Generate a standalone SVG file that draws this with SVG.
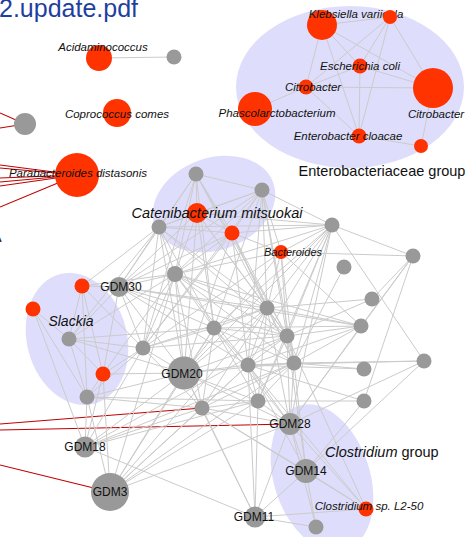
<svg xmlns="http://www.w3.org/2000/svg" width="471" height="537" viewBox="0 0 471 537">
<style>
.bg{fill:#ffffff}
.grp{fill:#dedefc}
.e{stroke:#cbcbcb;stroke-width:1;fill:none}
.r{stroke:#c00000;stroke-width:1.1;fill:none}
.nr{fill:#ff3300}
.ng{fill:#999999}
.lab{font-family:"Liberation Sans",Arial,sans-serif;font-style:italic;font-size:11.5px;fill:#111111;text-anchor:middle}
.gdm{font-family:"Liberation Sans",Arial,sans-serif;font-size:12px;fill:#111111;text-anchor:middle}
.big{font-family:"Liberation Sans",Arial,sans-serif;font-size:14.5px;fill:#111111}
.it{font-style:italic}
.title{font-family:"Liberation Sans",Arial,sans-serif;font-size:25px;fill:#1f3f9f}
</style>
<rect class="bg" x="0" y="0" width="471" height="537"/>
<text class="title" x="-1" y="17">2.update.pdf</text>
<text class="big" x="-8" y="242">A</text>

<g id="groups">
<ellipse class="grp" cx="350" cy="87" rx="114" ry="81"/>
<ellipse class="grp" cx="214" cy="204" rx="63" ry="46" transform="rotate(-20 214 204)"/>
<ellipse class="grp" cx="77" cy="339" rx="50" ry="67" transform="rotate(-15 77 339)"/>
<ellipse class="grp" cx="322" cy="478" rx="48" ry="76" transform="rotate(-18 322 478)"/>
</g>

<g id="connectors">
<line class="r" x1="0" y1="113" x2="25" y2="124"/>
<line class="r" x1="0" y1="128" x2="25" y2="124"/>
<line class="r" x1="0" y1="165" x2="77" y2="175"/>
<line class="r" x1="0" y1="168" x2="77" y2="175"/>
<line class="r" x1="0" y1="178" x2="77" y2="175"/>
<line class="r" x1="0" y1="182" x2="77" y2="175"/>
<line class="r" x1="0" y1="186" x2="77" y2="175"/>
<line class="r" x1="0" y1="207" x2="77" y2="175"/>
<line class="r" x1="0" y1="424" x2="202" y2="408"/>
<line class="r" x1="0" y1="430" x2="290" y2="424"/>
<line class="r" x1="0" y1="465" x2="110" y2="492"/>

<line class="e" x1="99" y1="58" x2="174" y2="57"/>

<line class="e" x1="322" y1="25" x2="360" y2="66"/>
<line class="e" x1="322" y1="25" x2="306" y2="87"/>
<line class="e" x1="322" y1="25" x2="433" y2="88"/>
<line class="e" x1="322" y1="25" x2="359" y2="136"/>
<line class="e" x1="322" y1="25" x2="390" y2="17"/>
<line class="e" x1="390" y1="17" x2="360" y2="66"/>
<line class="e" x1="390" y1="17" x2="306" y2="87"/>
<line class="e" x1="390" y1="17" x2="359" y2="136"/>
<line class="e" x1="390" y1="17" x2="433" y2="88"/>
<line class="e" x1="306" y1="87" x2="255" y2="109"/>
<line class="e" x1="306" y1="87" x2="433" y2="88"/>
<line class="e" x1="306" y1="87" x2="359" y2="136"/>
<line class="e" x1="306" y1="87" x2="360" y2="66"/>
<line class="e" x1="360" y1="66" x2="433" y2="88"/>
<line class="e" x1="360" y1="66" x2="359" y2="136"/>
<line class="e" x1="359" y1="136" x2="421" y2="146"/>
<line class="e" x1="433" y1="88" x2="421" y2="146"/>

<line class="e" x1="196" y1="174" x2="197" y2="213"/>
<line class="e" x1="196" y1="174" x2="159" y2="227"/>
<line class="e" x1="196" y1="174" x2="232" y2="233"/>
<line class="e" x1="196" y1="174" x2="262" y2="190"/>
<line class="e" x1="196" y1="174" x2="175" y2="274"/>
<line class="e" x1="196" y1="174" x2="214" y2="328"/>
<line class="e" x1="196" y1="174" x2="119" y2="287"/>
<line class="e" x1="196" y1="174" x2="267" y2="308"/>
<line class="e" x1="196" y1="174" x2="287" y2="336"/>
<line class="e" x1="196" y1="174" x2="143" y2="348"/>
<line class="e" x1="262" y1="190" x2="197" y2="213"/>
<line class="e" x1="262" y1="190" x2="159" y2="227"/>
<line class="e" x1="262" y1="190" x2="232" y2="233"/>
<line class="e" x1="262" y1="190" x2="332" y2="225"/>
<line class="e" x1="262" y1="190" x2="281" y2="252"/>
<line class="e" x1="262" y1="190" x2="267" y2="308"/>
<line class="e" x1="262" y1="190" x2="287" y2="336"/>
<line class="e" x1="262" y1="190" x2="214" y2="328"/>
<line class="e" x1="262" y1="190" x2="175" y2="274"/>
<line class="e" x1="262" y1="190" x2="119" y2="287"/>
<line class="e" x1="262" y1="190" x2="248" y2="365"/>
<line class="e" x1="262" y1="190" x2="294" y2="363"/>
<line class="e" x1="262" y1="190" x2="143" y2="348"/>
<line class="e" x1="197" y1="213" x2="159" y2="227"/>
<line class="e" x1="197" y1="213" x2="232" y2="233"/>
<line class="e" x1="197" y1="213" x2="332" y2="225"/>
<line class="e" x1="197" y1="213" x2="175" y2="274"/>
<line class="e" x1="197" y1="213" x2="214" y2="328"/>
<line class="e" x1="197" y1="213" x2="184" y2="373"/>
<line class="e" x1="197" y1="213" x2="267" y2="308"/>
<line class="e" x1="197" y1="213" x2="287" y2="336"/>
<line class="e" x1="197" y1="213" x2="119" y2="287"/>
<line class="e" x1="159" y1="227" x2="232" y2="233"/>
<line class="e" x1="159" y1="227" x2="119" y2="287"/>
<line class="e" x1="159" y1="227" x2="175" y2="274"/>
<line class="e" x1="159" y1="227" x2="143" y2="348"/>
<line class="e" x1="159" y1="227" x2="214" y2="328"/>
<line class="e" x1="159" y1="227" x2="267" y2="308"/>
<line class="e" x1="159" y1="227" x2="184" y2="373"/>
<line class="e" x1="159" y1="227" x2="82" y2="286"/>
<line class="e" x1="159" y1="227" x2="69" y2="339"/>
<line class="e" x1="159" y1="227" x2="287" y2="336"/>
<line class="e" x1="232" y1="233" x2="332" y2="225"/>
<line class="e" x1="232" y1="233" x2="281" y2="252"/>
<line class="e" x1="232" y1="233" x2="267" y2="308"/>
<line class="e" x1="232" y1="233" x2="287" y2="336"/>
<line class="e" x1="232" y1="233" x2="175" y2="274"/>
<line class="e" x1="232" y1="233" x2="143" y2="348"/>
<line class="e" x1="232" y1="233" x2="248" y2="365"/>
<line class="e" x1="232" y1="233" x2="184" y2="373"/>
<line class="e" x1="232" y1="233" x2="294" y2="363"/>
<line class="e" x1="232" y1="233" x2="119" y2="287"/>
<line class="e" x1="332" y1="225" x2="281" y2="252"/>
<line class="e" x1="332" y1="225" x2="413" y2="256"/>
<line class="e" x1="332" y1="225" x2="267" y2="308"/>
<line class="e" x1="332" y1="225" x2="287" y2="336"/>
<line class="e" x1="332" y1="225" x2="214" y2="328"/>
<line class="e" x1="332" y1="225" x2="294" y2="363"/>
<line class="e" x1="332" y1="225" x2="248" y2="365"/>
<line class="e" x1="332" y1="225" x2="424" y2="361"/>
<line class="e" x1="332" y1="225" x2="175" y2="274"/>
<line class="e" x1="332" y1="225" x2="290" y2="424"/>
<line class="e" x1="332" y1="225" x2="258" y2="401"/>
<line class="e" x1="332" y1="225" x2="159" y2="227"/>
<line class="e" x1="332" y1="225" x2="184" y2="373"/>
<line class="e" x1="281" y1="252" x2="413" y2="256"/>
<line class="e" x1="281" y1="252" x2="287" y2="336"/>
<line class="e" x1="281" y1="252" x2="267" y2="308"/>
<line class="e" x1="281" y1="252" x2="143" y2="348"/>
<line class="e" x1="281" y1="252" x2="294" y2="363"/>
<line class="e" x1="281" y1="252" x2="184" y2="373"/>
<line class="e" x1="281" y1="252" x2="361" y2="326"/>
<line class="e" x1="281" y1="252" x2="175" y2="274"/>
<line class="e" x1="413" y1="256" x2="372" y2="299"/>
<line class="e" x1="413" y1="256" x2="361" y2="326"/>
<line class="e" x1="413" y1="256" x2="364" y2="401"/>
<line class="e" x1="413" y1="256" x2="290" y2="424"/>
<line class="e" x1="344" y1="267" x2="294" y2="363"/>
<line class="e" x1="372" y1="299" x2="267" y2="308"/>
<line class="e" x1="372" y1="299" x2="287" y2="336"/>
<line class="e" x1="361" y1="326" x2="267" y2="308"/>
<line class="e" x1="361" y1="326" x2="287" y2="336"/>
<line class="e" x1="361" y1="326" x2="214" y2="328"/>
<line class="e" x1="361" y1="326" x2="248" y2="365"/>
<line class="e" x1="361" y1="326" x2="290" y2="424"/>
<line class="e" x1="361" y1="326" x2="294" y2="363"/>
<line class="e" x1="361" y1="326" x2="175" y2="274"/>
<line class="e" x1="361" y1="326" x2="119" y2="287"/>
<line class="e" x1="424" y1="361" x2="294" y2="363"/>
<line class="e" x1="424" y1="361" x2="290" y2="424"/>
<line class="e" x1="424" y1="361" x2="306" y2="471"/>
<line class="e" x1="424" y1="361" x2="248" y2="365"/>
<line class="e" x1="364" y1="369" x2="294" y2="363"/>
<line class="e" x1="364" y1="369" x2="248" y2="365"/>
<line class="e" x1="364" y1="401" x2="248" y2="365"/>
<line class="e" x1="364" y1="401" x2="258" y2="401"/>
<line class="e" x1="364" y1="401" x2="306" y2="471"/>
<line class="e" x1="119" y1="287" x2="82" y2="286"/>
<line class="e" x1="119" y1="287" x2="143" y2="348"/>
<line class="e" x1="119" y1="287" x2="175" y2="274"/>
<line class="e" x1="119" y1="287" x2="214" y2="328"/>
<line class="e" x1="119" y1="287" x2="267" y2="308"/>
<line class="e" x1="119" y1="287" x2="287" y2="336"/>
<line class="e" x1="119" y1="287" x2="184" y2="373"/>
<line class="e" x1="119" y1="287" x2="103" y2="374"/>
<line class="e" x1="119" y1="287" x2="248" y2="365"/>
<line class="e" x1="119" y1="287" x2="69" y2="339"/>
<line class="e" x1="82" y1="286" x2="69" y2="339"/>
<line class="e" x1="82" y1="286" x2="87" y2="397"/>
<line class="e" x1="82" y1="286" x2="103" y2="374"/>
<line class="e" x1="82" y1="286" x2="175" y2="274"/>
<line class="e" x1="82" y1="286" x2="143" y2="348"/>
<line class="e" x1="33" y1="309" x2="69" y2="339"/>
<line class="e" x1="33" y1="309" x2="87" y2="397"/>
<line class="e" x1="33" y1="309" x2="85" y2="447"/>
<line class="e" x1="69" y1="339" x2="143" y2="348"/>
<line class="e" x1="69" y1="339" x2="87" y2="397"/>
<line class="e" x1="69" y1="339" x2="175" y2="274"/>
<line class="e" x1="69" y1="339" x2="103" y2="374"/>
<line class="e" x1="69" y1="339" x2="214" y2="328"/>
<line class="e" x1="69" y1="339" x2="184" y2="373"/>
<line class="e" x1="175" y1="274" x2="214" y2="328"/>
<line class="e" x1="175" y1="274" x2="143" y2="348"/>
<line class="e" x1="175" y1="274" x2="184" y2="373"/>
<line class="e" x1="175" y1="274" x2="267" y2="308"/>
<line class="e" x1="175" y1="274" x2="287" y2="336"/>
<line class="e" x1="175" y1="274" x2="248" y2="365"/>
<line class="e" x1="175" y1="274" x2="294" y2="363"/>
<line class="e" x1="175" y1="274" x2="202" y2="408"/>
<line class="e" x1="175" y1="274" x2="103" y2="374"/>
<line class="e" x1="175" y1="274" x2="110" y2="492"/>
<line class="e" x1="143" y1="348" x2="214" y2="328"/>
<line class="e" x1="143" y1="348" x2="267" y2="308"/>
<line class="e" x1="143" y1="348" x2="184" y2="373"/>
<line class="e" x1="143" y1="348" x2="103" y2="374"/>
<line class="e" x1="143" y1="348" x2="87" y2="397"/>
<line class="e" x1="143" y1="348" x2="202" y2="408"/>
<line class="e" x1="143" y1="348" x2="85" y2="447"/>
<line class="e" x1="143" y1="348" x2="287" y2="336"/>
<line class="e" x1="214" y1="328" x2="267" y2="308"/>
<line class="e" x1="214" y1="328" x2="287" y2="336"/>
<line class="e" x1="214" y1="328" x2="184" y2="373"/>
<line class="e" x1="214" y1="328" x2="248" y2="365"/>
<line class="e" x1="214" y1="328" x2="294" y2="363"/>
<line class="e" x1="214" y1="328" x2="202" y2="408"/>
<line class="e" x1="214" y1="328" x2="258" y2="401"/>
<line class="e" x1="214" y1="328" x2="290" y2="424"/>
<line class="e" x1="214" y1="328" x2="110" y2="492"/>
<line class="e" x1="267" y1="308" x2="287" y2="336"/>
<line class="e" x1="267" y1="308" x2="248" y2="365"/>
<line class="e" x1="267" y1="308" x2="294" y2="363"/>
<line class="e" x1="267" y1="308" x2="184" y2="373"/>
<line class="e" x1="267" y1="308" x2="202" y2="408"/>
<line class="e" x1="267" y1="308" x2="258" y2="401"/>
<line class="e" x1="267" y1="308" x2="290" y2="424"/>
<line class="e" x1="267" y1="308" x2="110" y2="492"/>
<line class="e" x1="287" y1="336" x2="248" y2="365"/>
<line class="e" x1="287" y1="336" x2="294" y2="363"/>
<line class="e" x1="287" y1="336" x2="184" y2="373"/>
<line class="e" x1="287" y1="336" x2="258" y2="401"/>
<line class="e" x1="287" y1="336" x2="290" y2="424"/>
<line class="e" x1="287" y1="336" x2="306" y2="471"/>
<line class="e" x1="287" y1="336" x2="85" y2="447"/>
<line class="e" x1="287" y1="336" x2="366" y2="509"/>
<line class="e" x1="184" y1="373" x2="248" y2="365"/>
<line class="e" x1="184" y1="373" x2="202" y2="408"/>
<line class="e" x1="184" y1="373" x2="258" y2="401"/>
<line class="e" x1="184" y1="373" x2="103" y2="374"/>
<line class="e" x1="184" y1="373" x2="87" y2="397"/>
<line class="e" x1="184" y1="373" x2="110" y2="492"/>
<line class="e" x1="184" y1="373" x2="290" y2="424"/>
<line class="e" x1="184" y1="373" x2="85" y2="447"/>
<line class="e" x1="184" y1="373" x2="294" y2="363"/>
<line class="e" x1="184" y1="373" x2="255" y2="517"/>
<line class="e" x1="248" y1="365" x2="294" y2="363"/>
<line class="e" x1="248" y1="365" x2="258" y2="401"/>
<line class="e" x1="248" y1="365" x2="290" y2="424"/>
<line class="e" x1="248" y1="365" x2="202" y2="408"/>
<line class="e" x1="248" y1="365" x2="110" y2="492"/>
<line class="e" x1="248" y1="365" x2="255" y2="517"/>
<line class="e" x1="248" y1="365" x2="306" y2="471"/>
<line class="e" x1="248" y1="365" x2="366" y2="509"/>
<line class="e" x1="294" y1="363" x2="258" y2="401"/>
<line class="e" x1="294" y1="363" x2="290" y2="424"/>
<line class="e" x1="294" y1="363" x2="306" y2="471"/>
<line class="e" x1="294" y1="363" x2="202" y2="408"/>
<line class="e" x1="294" y1="363" x2="110" y2="492"/>
<line class="e" x1="294" y1="363" x2="85" y2="447"/>
<line class="e" x1="87" y1="397" x2="85" y2="447"/>
<line class="e" x1="87" y1="397" x2="110" y2="492"/>
<line class="e" x1="87" y1="397" x2="103" y2="374"/>
<line class="e" x1="87" y1="397" x2="202" y2="408"/>
<line class="e" x1="87" y1="397" x2="258" y2="401"/>
<line class="e" x1="103" y1="374" x2="110" y2="492"/>
<line class="e" x1="103" y1="374" x2="85" y2="447"/>
<line class="e" x1="202" y1="408" x2="110" y2="492"/>
<line class="e" x1="202" y1="408" x2="85" y2="447"/>
<line class="e" x1="202" y1="408" x2="290" y2="424"/>
<line class="e" x1="202" y1="408" x2="258" y2="401"/>
<line class="e" x1="202" y1="408" x2="255" y2="517"/>
<line class="e" x1="202" y1="408" x2="306" y2="471"/>
<line class="e" x1="202" y1="408" x2="366" y2="509"/>
<line class="e" x1="258" y1="401" x2="255" y2="517"/>
<line class="e" x1="258" y1="401" x2="290" y2="424"/>
<line class="e" x1="258" y1="401" x2="110" y2="492"/>
<line class="e" x1="258" y1="401" x2="85" y2="447"/>
<line class="e" x1="110" y1="492" x2="290" y2="424"/>
<line class="e" x1="290" y1="424" x2="306" y2="471"/>
<line class="e" x1="290" y1="424" x2="366" y2="509"/>
<line class="e" x1="290" y1="424" x2="316" y2="527"/>
<line class="e" x1="290" y1="424" x2="255" y2="517"/>
<line class="e" x1="306" y1="471" x2="366" y2="509"/>
<line class="e" x1="306" y1="471" x2="255" y2="517"/>
<line class="e" x1="306" y1="471" x2="316" y2="527"/>
<line class="e" x1="255" y1="517" x2="366" y2="509"/>
<line class="e" x1="255" y1="517" x2="316" y2="527"/>
<line class="e" x1="85" y1="447" x2="255" y2="517"/>
</g>

<g id="node-acidaminococcus"><circle class="nr" cx="99" cy="58" r="13"/><text class="lab" x="103" y="51">Acidaminococcus</text></g>
<g id="node-acid-partner"><circle class="ng" cx="174" cy="57" r="7.5"/></g>
<g id="node-coprococcus"><circle class="nr" cx="117" cy="113" r="14"/><text class="lab" x="117" y="118">Coprococcus comes</text></g>
<g id="node-left-gray"><circle class="ng" cx="25" cy="124" r="11"/></g>
<g id="node-parabacteroides"><circle class="nr" cx="77" cy="175" r="22"/><text class="lab" x="78" y="177">Parabacteroides distasonis</text></g>

<g id="node-klebsiella"><circle class="nr" cx="322" cy="25" r="15"/><text class="lab" x="356" y="18">Klebsiella variicola</text></g>
<g id="node-ent-r1"><circle class="nr" cx="390" cy="17" r="7"/></g>
<g id="node-ecoli"><circle class="nr" cx="360" cy="66" r="7.5"/><text class="lab" x="360" y="70">Escherichia coli</text></g>
<g id="node-citrobacter-small"><circle class="nr" cx="306" cy="87" r="7.5"/><text class="lab" x="313" y="91">Citrobacter</text></g>
<g id="node-phascolarctobacterium"><circle class="nr" cx="255" cy="109" r="17"/><text class="lab" x="277" y="117">Phascolarctobacterium</text></g>
<g id="node-citrobacter-big"><circle class="nr" cx="433" cy="88" r="20"/><text class="lab" x="436" y="118">Citrobacter</text></g>
<g id="node-enterobacter"><circle class="nr" cx="359" cy="136" r="7.5"/><text class="lab" x="348" y="140">Enterobacter cloacae</text></g>
<g id="node-ent-r2"><circle class="nr" cx="421" cy="146" r="7"/></g>

<g id="node-n1"><circle class="ng" cx="196" cy="174" r="7.5"/></g>
<g id="node-n2"><circle class="ng" cx="262" cy="190" r="7.5"/></g>
<g id="node-catenibacterium"><circle class="nr" cx="197" cy="213" r="10"/><text class="lab" x="217" y="218" style="font-size:14.5px">Catenibacterium mitsuokai</text></g>
<g id="node-n3"><circle class="ng" cx="159" cy="227" r="7.5"/></g>
<g id="node-cat-r1"><circle class="nr" cx="232" cy="233" r="7.5"/></g>
<g id="node-bacteroides"><circle class="nr" cx="281" cy="252" r="7"/><text class="lab" x="293" y="256" style="font-size:11px">Bacteroides</text></g>
<g id="node-n4"><circle class="ng" cx="332" cy="225" r="7.5"/></g>
<g id="node-n5"><circle class="ng" cx="413" cy="256" r="7.5"/></g>
<g id="node-n6"><circle class="ng" cx="344" cy="267" r="7.5"/></g>
<g id="node-n7"><circle class="ng" cx="175" cy="274" r="8"/></g>
<g id="node-gdm30"><circle class="ng" cx="119" cy="287" r="10"/><text class="gdm" x="121" y="291">GDM30</text></g>
<g id="node-slackia-r1"><circle class="nr" cx="82" cy="286" r="7.5"/></g>
<g id="node-slackia-r2"><circle class="nr" cx="33" cy="309" r="7.5"/></g>
<g id="node-n8"><circle class="ng" cx="69" cy="339" r="7.5"/></g>
<g id="node-n9"><circle class="ng" cx="267" cy="308" r="7.5"/></g>
<g id="node-n10"><circle class="ng" cx="214" cy="328" r="7.5"/></g>
<g id="node-n11"><circle class="ng" cx="287" cy="336" r="7.5"/></g>
<g id="node-n12"><circle class="ng" cx="143" cy="348" r="7.5"/></g>
<g id="node-n13"><circle class="ng" cx="372" cy="299" r="7.5"/></g>
<g id="node-n14"><circle class="ng" cx="361" cy="326" r="7.5"/></g>
<g id="node-n15"><circle class="ng" cx="424" cy="361" r="7.5"/></g>
<g id="node-slackia-r3"><circle class="nr" cx="103" cy="374" r="7.5"/></g>
<g id="node-gdm20"><circle class="ng" cx="184" cy="373" r="16.5"/><text class="gdm" x="182" y="378">GDM20</text></g>
<g id="node-n16"><circle class="ng" cx="248" cy="365" r="7.5"/></g>
<g id="node-n17"><circle class="ng" cx="294" cy="363" r="7.5"/></g>
<g id="node-n18"><circle class="ng" cx="364" cy="369" r="7.5"/></g>
<g id="node-n19"><circle class="ng" cx="87" cy="397" r="7.5"/></g>
<g id="node-n20"><circle class="ng" cx="202" cy="408" r="7.5"/></g>
<g id="node-n21"><circle class="ng" cx="258" cy="401" r="7.5"/></g>
<g id="node-n22"><circle class="ng" cx="364" cy="401" r="7.5"/></g>
<g id="node-gdm28"><circle class="ng" cx="290" cy="424" r="11"/><text class="gdm" x="290" y="428">GDM28</text></g>
<g id="node-gdm18"><circle class="ng" cx="85" cy="447" r="10.5"/><text class="gdm" x="85" y="451">GDM18</text></g>
<g id="node-gdm14"><circle class="ng" cx="306" cy="471" r="12"/><text class="gdm" x="306" y="475">GDM14</text></g>
<g id="node-gdm3"><circle class="ng" cx="110" cy="492" r="19"/><text class="gdm" x="110" y="496">GDM3</text></g>
<g id="node-gdm11"><circle class="ng" cx="255" cy="517" r="10.5"/><text class="gdm" x="254" y="521">GDM11</text></g>
<g id="node-clostridium-sp"><circle class="nr" cx="366" cy="509" r="7.5"/><text class="lab" x="369" y="510">Clostridium sp. L2-50</text></g>
<g id="node-n23"><circle class="ng" cx="316" cy="527" r="7.5"/></g>

<g id="group-labels">
<text class="big" x="382" y="176" text-anchor="middle">Enterobacteriaceae group</text>
<text class="big it" x="71" y="326" text-anchor="middle" style="font-size:14px">Slackia</text>
<text class="big" x="325" y="457"><tspan class="it">Clostridium</tspan> group</text>
</g>
</svg>
